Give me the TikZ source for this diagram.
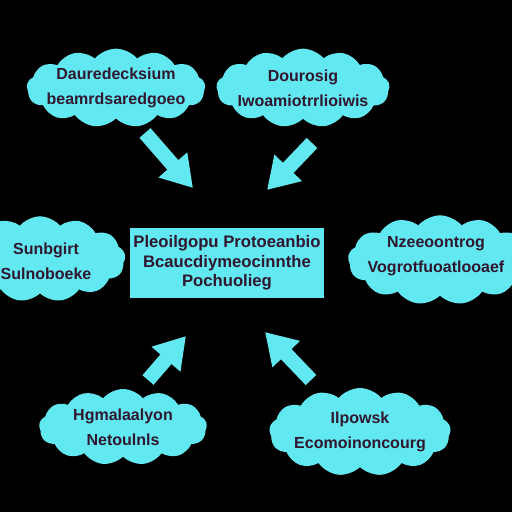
\documentclass[tikz,border=0pt]{standalone}
\usepackage{fontspec}
\setsansfont{Liberation Sans}
\usepackage{xcolor}
\usetikzlibrary{shapes.symbols}
\usetikzlibrary{arrows.meta}

\definecolor{cyanfill}{RGB}{98,232,240}
\definecolor{inkdark}{RGB}{48,22,46}

\begin{document}
\begin{tikzpicture}[x=0.75pt,y=0.75pt,yscale=-1,xscale=1,
  puff/.style={cloud, cloud puffs=13, cloud puff arc=100, cloud ignores aspect,
    fill=cyanfill, draw=none, inner sep=0pt},
  words/.style={text=inkdark, align=center, inner sep=0pt,
    font=\sffamily\bfseries\fontsize{12}{19}\selectfont},
  panel/.style={rectangle, fill=cyanfill, draw=none, text=inkdark, align=center,
    inner sep=0pt, minimum width=146pt, minimum height=52.5pt,
    font=\sffamily\bfseries\fontsize{12.5}{14.5}\selectfont},
  flow/.style={draw=cyanfill, line width=11pt, -{Triangle[length=23pt,width=27pt]}}]
%set diagram to 512 x 512, black ground
\useasboundingbox (0,0) rectangle (512,512);
\fill [black] (0,0) rectangle (512,512);
\clip (0,0) rectangle (512,512);

% Clouds
\node [puff, minimum width=134pt, minimum height=59pt] (cloudTL) at (116,88) {};
\node [puff, minimum width=130pt, minimum height=59pt] (cloudTR) at (303,88) {};
\node [puff, minimum width=128pt, minimum height=64pt] (cloudL) at (40,259) {};
\node [puff, minimum width=138pt, minimum height=67pt] (cloudR) at (440,260) {};
\node [puff, minimum width=126pt, minimum height=57pt] (cloudBL) at (123,427) {};
\node [puff, minimum width=136pt, minimum height=66pt] (cloudBR) at (360,432) {};

% Cloud texts
\node [words] (textTL) at (cloudTL) {Dauredecksium\\beamrdsaredgoeo};
\node [words] (textTR) at (cloudTR) {Dourosig\\Iwoamiotrrlioiwis};
\node [words] (textL) at (46,261) {Sunbgirt\\Sulnoboeke};
\node [words] (textR) at (436,256) {Nzeeoontrog\\Vogrotfuoatlooaef};
\node [words] (textBL) at (cloudBL) {Hgmalaalyon\\Netoulnls};
\node [words] (textBR) at (cloudBR) {Ilpowsk\\Ecomoinoncourg};

% Centre box
\node [panel] (hub) at (227,263) {Pleoilgopu Protoeanbio\\Bcaucdiymeocinnthe\\Pochuolieg};

% Arrow ends
\coordinate (tlTail) at (145,133);
\coordinate (tlTip) at (193,188);
\coordinate (trTail) at (312,143);
\coordinate (trTip) at (267,190);
\coordinate (blTail) at (148,380);
\coordinate (blTip) at (186,336);
\coordinate (brTail) at (311,380);
\coordinate (brTip) at (265,332);

% Arrows
\draw [flow] (tlTail) -- (tlTip);
\draw [flow] (trTail) -- (trTip);
\draw [flow] (blTail) -- (blTip);
\draw [flow] (brTail) -- (brTip);

\end{tikzpicture}
\end{document}
